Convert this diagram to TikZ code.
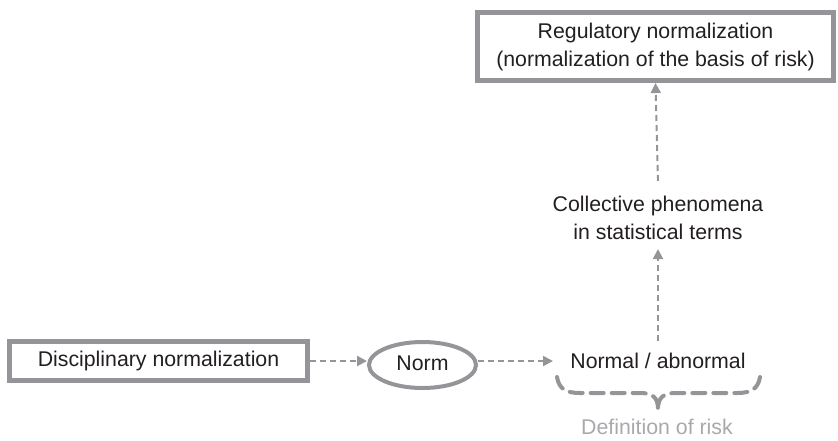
\documentclass[tikz,border=0pt]{standalone}
\usepackage{fontspec}
\setmainfont{Liberation Sans}
\usetikzlibrary{arrows.meta,shapes.geometric}
\definecolor{ink}{HTML}{231F20}
\definecolor{rule}{HTML}{939598}
\definecolor{soft}{HTML}{A7A9AC}
\tikzset{
  txt/.style={text=ink, font=\fontsize{21.3}{28}\selectfont, align=center, inner sep=0pt},
  framebox/.style={txt, draw=rule, line width=5pt, rectangle},
  normring/.style={txt, draw=rule, line width=4pt, ellipse},
  flow/.style={draw=rule, line width=2pt, dash pattern=on 6pt off 4pt,
    -{Triangle[length=10pt,width=10pt]}},
  bracket/.style={draw=rule, line width=4pt, dash pattern=on 13pt off 8pt, line cap=round},
}
\begin{document}
\begin{tikzpicture}[x=1pt,y=-1pt]
  \useasboundingbox (0,0) rectangle (838,440);

  \node[framebox, minimum width=298pt, minimum height=39pt] (disc) at (158.5,361) {Disciplinary normalization};
  \node[normring, minimum width=107pt, minimum height=46pt] (norm) at (422.5,365) {\raisebox{4pt}{Norm}};
  \node[txt] (normal) at (658,361) {Normal / abnormal};
  \node[txt] (coll) at (658,218) {Collective phenomena\\in statistical terms};
  \node[framebox, minimum width=356pt, minimum height=68pt] (reg) at (655.5,46.5)
    {Regulatory normalization\\(normalization of the basis of risk)};
  \node[txt, text=soft] (risk) at (657,427) {Definition of risk};

  % flow of the argument
  \draw[flow] (disc.east) -- (disc.east -| norm.west);
  \draw[flow] (disc.east -| norm.east) -- ++(75,0) coordinate (normin);
  \draw[flow] ([yshift=12pt]normal.north) -- ([yshift=-9pt]coll.south);
  \draw[flow] ([yshift=15pt]coll.north) -- (reg.south);

  % dashed brace under "Normal / abnormal"
  \draw[bracket] (557,377) .. controls (559,389) and (566,393) .. (580,393)
    -- (640,393) .. controls (652,393) and (658,397) .. (658,409);
  \draw[bracket] (760,377) .. controls (758,389) and (751,393) .. (737,393)
    -- (676,393) .. controls (664,393) and (658,397) .. (658,409);
\end{tikzpicture}
\end{document}
